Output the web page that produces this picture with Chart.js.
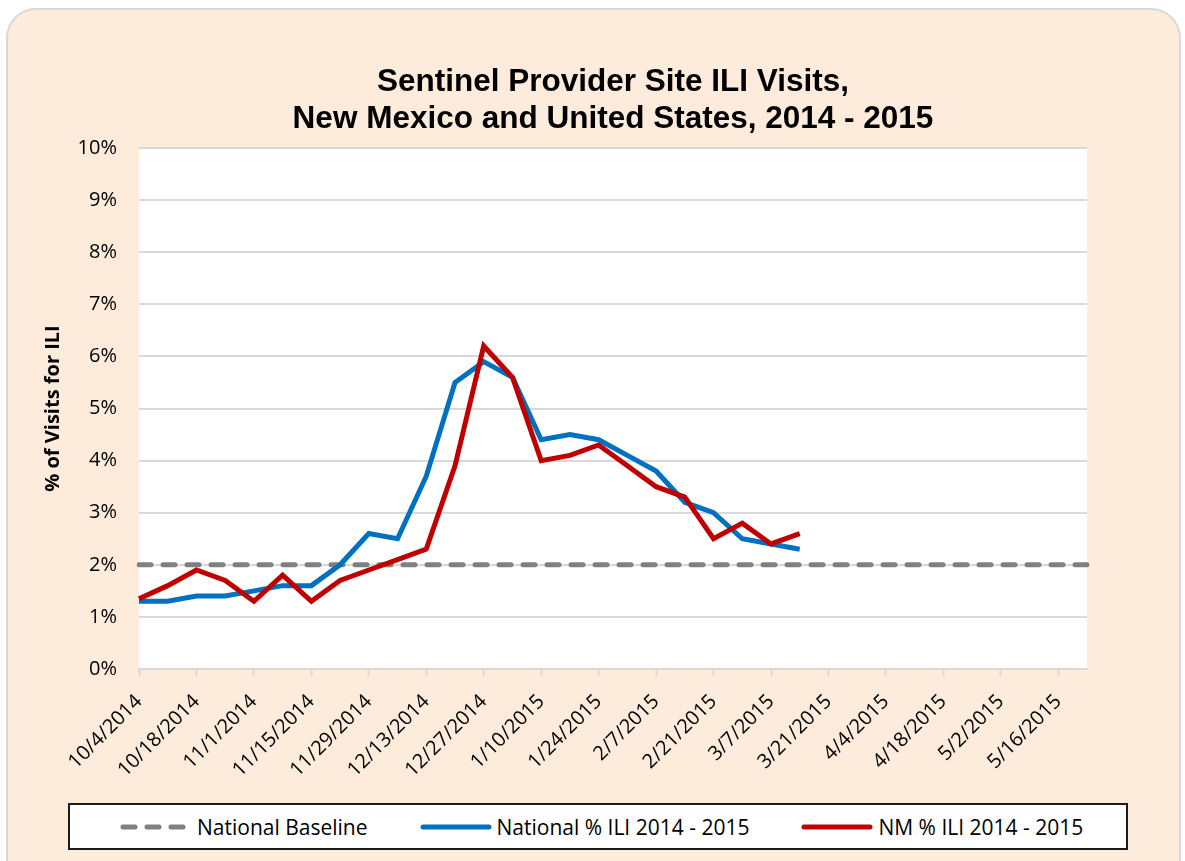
<!DOCTYPE html>
<html>
<head>
<meta charset="utf-8">
<title>Sentinel Provider Site ILI Visits</title>
<script src="https://cdn.jsdelivr.net/npm/chart.js@4.4.0/dist/chart.umd.min.js"></script>
<style>
  html,body{margin:0;padding:0;background:#fff;}
  #wrap{position:relative;width:1185px;height:861px;overflow:hidden;background:#fff;}
  #frame{position:absolute;left:6px;top:8px;width:1175px;height:885px;box-sizing:border-box;
    border:2px solid #d9d9d9;border-radius:30px;background:#fdebdc;}
  #ili{position:absolute;left:0;top:0;}
  #legend{position:absolute;left:68px;top:803px;width:1060px;height:47px;box-sizing:border-box;
    border:2px solid #1a1a1a;background:#fff;display:flex;align-items:center;padding-left:50px;
    font-family:"Open Sans",sans-serif;font-size:21px;color:#000;}
  #legend .item{display:flex;align-items:center;margin-right:52px;white-space:nowrap;}
  #legend svg{margin-right:5px;}
</style>
</head>
<body>
<div id="wrap">
  <div id="frame"></div>
  <canvas id="ili" width="1185" height="861"></canvas>
  <div id="legend"></div>
</div>
<script>
// weekly report dates (week ending)
const weeks = ['10/4/2014','10/11/2014','10/18/2014','10/25/2014','11/1/2014','11/8/2014','11/15/2014',
  '11/22/2014','11/29/2014','12/6/2014','12/13/2014','12/20/2014','12/27/2014','1/3/2015','1/10/2015',
  '1/17/2015','1/24/2015','1/31/2015','2/7/2015','2/14/2015','2/21/2015','2/28/2015','3/7/2015',
  '3/14/2015','3/21/2015','3/28/2015','4/4/2015','4/11/2015','4/18/2015','4/25/2015','5/2/2015',
  '5/9/2015','5/16/2015','5/23/2015'];

// % of visits for ILI
const nationalBaseline = [2,2,2,2,2,2,2,2,2,2,2,2,2,2,2,2,2,2,2,2,2,2,2,2,2,2,2,2,2,2,2,2,2,2];
const nationalILI = [1.3,1.3,1.4,1.4,1.5,1.6,1.6,2.0,2.6,2.5,3.7,5.5,5.9,5.6,4.4,4.5,4.4,4.1,3.8,3.2,3.0,2.5,2.4,2.3];
const nmILI = [1.35,1.6,1.9,1.7,1.3,1.8,1.3,1.7,1.9,2.1,2.3,3.9,6.2,5.6,4.0,4.1,4.3,3.9,3.5,3.3,2.5,2.8,2.4,2.6];

const yTicks = [0,1,2,3,4,5,6,7,8,9,10];
const titleLines = ['Sentinel Provider Site ILI Visits,','New Mexico and United States, 2014 - 2015'];
const yTitle = '% of Visits for ILI';

// white plot area on the peach frame
const plotBg = {
  id:'plotBg',
  beforeDraw(chart){
    const {ctx, chartArea:a} = chart;
    ctx.save();
    ctx.fillStyle = '#ffffff';
    ctx.fillRect(a.left, a.top, a.right-a.left, a.bottom-a.top);
    ctx.restore();
  }
};

const tickFont = {family:'"Open Sans", sans-serif', size:20};

const chart = new Chart(document.getElementById('ili').getContext('2d'), {
  type:'line',
  data:{
    labels: weeks,
    datasets:[
      {label:'National Baseline', data:nationalBaseline, borderColor:'#808080', borderWidth:5,
        borderDash:[12,12], borderCapStyle:'round', order:3},
      {label:'National % ILI 2014 - 2015', data:nationalILI, borderColor:'#0070c0', borderWidth:5, order:2},
      {label:'NM % ILI 2014 - 2015', data:nmILI, borderColor:'#c00000', borderWidth:5, order:1}
    ]
  },
  options:{
    responsive:false,
    animation:false,
    layout:{padding:{left:40, right:98, top:0, bottom:0}},
    elements:{point:{radius:0, hoverRadius:0}, line:{tension:0, fill:false}},
    plugins:{
      legend:{display:false},
      tooltip:{enabled:false},
      title:{
        display:true, fullSize:false, text:titleLines, color:'#000',
        font:{family:'"Liberation Sans", Arial, sans-serif', size:31.5, weight:'bold', lineHeight:37/31.5},
        padding:{top:64, bottom:10}
      }
    },
    scales:{
      x:{
        type:'category',
        offset:false,
        grid:{display:true, drawOnChartArea:false, drawTicks:true, tickLength:7, tickWidth:2,
          tickColor:(c)=> c.index % 2 === 0 ? '#d9d9d9' : 'rgba(0,0,0,0)'},
        border:{display:true, color:'#d9d9d9', width:2},
        ticks:{
          autoSkip:false, maxRotation:45, minRotation:45, padding:14, color:'#000', font:tickFont,
          callback:function(v,i){ return i % 2 === 0 ? this.getLabelForValue(v) : ''; }
        },
        afterFit:(s)=>{ s.height = 192; s.paddingLeft = 0; s.paddingRight = 0; }
      },
      y:{
        min:0, max:10,
        afterBuildTicks:(s)=>{ s.ticks = yTicks.map(v=>({value:v})); },
        grid:{color:'#d9d9d9', lineWidth:2, drawTicks:false},
        border:{display:false},
        ticks:{padding:22, color:'#000', font:tickFont, callback:(v)=> v + '%'},
        title:{display:true, text:yTitle, color:'#000', padding:{top:1, bottom:0},
          font:{family:'"Open Sans", sans-serif', size:20, weight:'bold'}},
        afterFit:(s)=>{ s.width = 99; }
      }
    }
  },
  plugins:[plotBg]
});

// legend box built from the chart's datasets
const legend = document.getElementById('legend');
chart.data.datasets.forEach(ds=>{
  const item = document.createElement('div');
  item.className = 'item';
  const dash = ds.borderDash ? 'stroke-dasharray="12 12"' : '';
  item.innerHTML = `<svg width="72" height="12"><line x1="3" y1="6" x2="69" y2="6" stroke="${ds.borderColor}" stroke-width="5" stroke-linecap="round" ${dash}/></svg><span>${ds.label}</span>`;
  legend.appendChild(item);
});
</script>
</body>
</html>
